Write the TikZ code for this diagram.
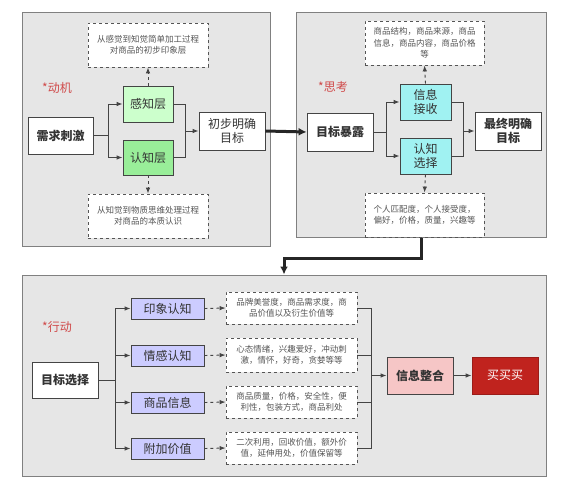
\documentclass[tikz,border=0pt]{standalone}
\usepackage{fontspec}
\setmainfont{Noto Sans CJK SC}
\usetikzlibrary{arrows.meta}
\definecolor{panelfill}{HTML}{E6E6E6}
\definecolor{panelline}{HTML}{808080}
\definecolor{linec}{HTML}{444444}
\definecolor{txt}{HTML}{333333}
\definecolor{dtxt}{HTML}{555555}
\definecolor{lgreen}{HTML}{CCFFCC}
\definecolor{mgreen}{HTML}{99EE99}
\definecolor{lcyan}{HTML}{A0F2F2}
\definecolor{lblue}{HTML}{CCCCFF}
\definecolor{lpink}{HTML}{F6C6C6}
\definecolor{dred}{HTML}{C0231E}
\definecolor{redlab}{HTML}{D04A4A}
\tikzset{
  x=1pt, y=-1pt,
  panel/.style={draw=panelline, fill=panelfill, line width=1pt, inner sep=0pt},
  box/.style={draw=linec, fill=white, line width=0.8pt, inner sep=1pt, align=center, text=txt, font=\fontsize{12}{14}\selectfont},
  bbox/.style={box, font=\fontsize{12}{14}\selectfont\bfseries},
  note/.style={draw=dtxt, dashed, fill=white, line width=0.8pt, inner sep=1pt, align=center, text=dtxt, font=\fontsize{8.5}{11.5}\selectfont},
  lab/.style={text=redlab, font=\fontsize{12}{14}\selectfont},
  conn/.style={draw=linec, line width=0.9pt},
  arr/.style={conn, -{Latex[length=6pt,width=4.5pt]}},
  darr/.style={arr, dashed},
  thickarr/.style={draw=black!85, line width=3pt, -{Latex[length=8pt,width=8pt]}},
}
\begin{document}
\begin{tikzpicture}
\useasboundingbox (0,0) rectangle (565,492);
% panels
\node[panel, minimum width=248pt, minimum height=233pt] (p1) at (146,129.5) {};
\node[panel, minimum width=250pt, minimum height=224pt] (p2) at (421,125) {};
\node[panel, minimum width=524pt, minimum height=201pt] (p3) at (284,375.5) {};
% labels
\node[lab] (l1) at (57,88) {*动机};
\node[lab] (l2) at (333,87) {*思考};
\node[lab] (l3) at (57,327) {*行动};
% panel 1
\node[note, minimum width=120pt, minimum height=44pt] (n1) at (148,45) {从感觉到知觉简单加工过程\\对商品的初步印象层};
\node[box, fill=lgreen, minimum width=50pt, minimum height=36pt] (gz) at (148,104) {感知层};
\node[box, fill=mgreen, minimum width=50pt, minimum height=35pt] (rz) at (148,157.5) {认知层};
\node[bbox, minimum width=65pt, minimum height=37pt] (xq) at (60.5,135.5) {需求刺激};
\node[box, minimum width=66pt, minimum height=38pt] (cb) at (232,131) {初步明确\\目标};
\node[note, minimum width=120pt, minimum height=44pt] (n2) at (148,216) {从知觉到物质思维处理过程\\对商品的本质认识};
\coordinate (s1) at (108,135.5);
\coordinate (m1) at (185,131);
\draw[conn] (xq.east) -- (s1);
\draw[arr] (s1) |- (gz.west);
\draw[arr] (s1) |- (rz.west);
\draw[conn] (gz.east) -| (m1);
\draw[conn] (rz.east) -| (m1);
\draw[arr] (m1) -- (cb.west);
\draw[darr] (gz.north) -- (n1.south);
\draw[darr] (rz.south) -- (n2.north);
% panel 2
\node[note, minimum width=119pt, minimum height=44pt] (n3) at (424.5,43) {商品结构，商品来源，商品\\信息，商品内容，商品价格\\等};
\node[box, fill=lcyan, minimum width=51pt, minimum height=36pt] (xx) at (425.5,102) {信息\\接收};
\node[box, fill=lcyan, minimum width=51pt, minimum height=36pt] (rx) at (425.5,156) {认知\\选择};
\node[bbox, minimum width=66pt, minimum height=38pt] (mb) at (340,132) {目标暴露};
\node[bbox, minimum width=66pt, minimum height=38pt] (zz) at (508,131) {最终明确\\目标};
\node[note, minimum width=119pt, minimum height=44pt] (n4) at (424.5,215) {个人匹配度，个人接受度，\\偏好，价格，质量，兴趣等};
\coordinate (s2) at (386,132);
\coordinate (m2) at (463,131);
\draw[conn] (mb.east) -- (s2);
\draw[arr] (s2) |- (xx.west);
\draw[arr] (s2) |- (rx.west);
\draw[conn] (xx.east) -| (m2);
\draw[conn] (rx.east) -| (m2);
\draw[arr] (m2) -- (zz.west);
\draw[darr] (xx.north) -- (n3.south);
\draw[darr] (rx.south) -- (n4.north);
% thick connectors
\draw[thickarr] (cb.east) -- (mb.west);
\coordinate (bend) at (421,258);
\draw[thickarr] (p2.south) -- (bend) -| (p3.north);
% panel 3
\node[bbox, minimum width=66pt, minimum height=36pt] (mx) at (65,380) {目标选择};
\node[box, fill=lblue, minimum width=73pt, minimum height=21pt] (b1) at (167.5,308.5) {印象认知};
\node[box, fill=lblue, minimum width=73pt, minimum height=21pt] (b2) at (167.5,355.5) {情感认知};
\node[box, fill=lblue, minimum width=73pt, minimum height=21pt] (b3) at (167.5,402.5) {商品信息};
\node[box, fill=lblue, minimum width=73pt, minimum height=21pt] (b4) at (167.5,448.5) {附加价值};
\node[note, minimum width=131pt, minimum height=32pt] (d1) at (291.5,308) {品牌美誉度，商品需求度，商\\品价值以及衍生价值等};
\node[note, minimum width=131pt, minimum height=34pt] (d2) at (291.5,355) {心态情绪，兴趣爱好，冲动刺\\激，情怀，好奇，贪婪等等};
\node[note, minimum width=131pt, minimum height=32pt] (d3) at (291.5,402) {商品质量，价格，安全性，便\\利性，包装方式，商品利处};
\node[note, minimum width=131pt, minimum height=32pt] (d4) at (291.5,448) {二次利用，回收价值，额外价\\值，延伸用处，价值保留等};
\node[bbox, fill=lpink, minimum width=66pt, minimum height=37pt] (hz) at (420,375.5) {信息整合};
\node[box, draw=dred!80!black, fill=dred, text=white, minimum width=66pt, minimum height=37pt] (mm) at (505,375.5) {买买买};
\coordinate (s3) at (115,380);
\coordinate (m3) at (371,375.5);
\draw[conn] (mx.east) -- (s3);
\draw[arr] (s3) |- (b1.west);
\draw[arr] (s3) |- (b2.west);
\draw[arr] (s3) |- (b3.west);
\draw[arr] (s3) |- (b4.west);
\draw[darr] (b1.east) -- (d1.west);
\draw[darr] (b2.east) -- (d2.west);
\draw[darr] (b3.east) -- (d3.west);
\draw[darr] (b4.east) -- (d4.west);
\draw[conn] (d1.east) -| (m3);
\draw[conn] (d2.east) -| (m3);
\draw[conn] (d3.east) -| (m3);
\draw[conn] (d4.east) -| (m3);
\draw[arr] (m3) -- (hz.west);
\draw[arr] (hz.east) -- (mm.west);
\end{tikzpicture}
\end{document}
